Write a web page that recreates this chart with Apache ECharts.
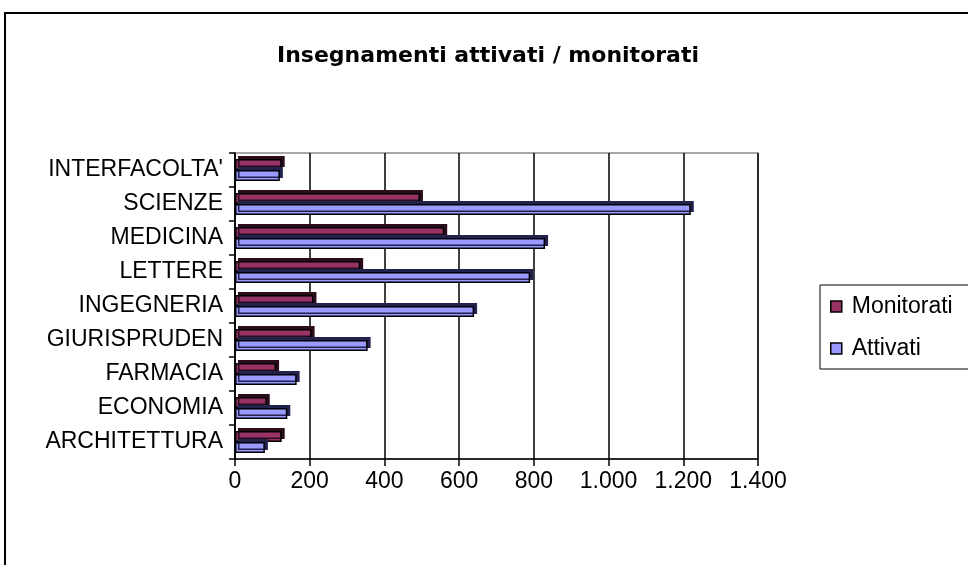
<!DOCTYPE html>
<html>
<head>
<meta charset="utf-8">
<script src="https://cdn.jsdelivr.net/npm/echarts@6/dist/echarts.min.js"></script>
<style>
  html, body { margin: 0; padding: 0; background: #fff; }
  #chart { width: 968px; height: 565px; }
</style>
</head>
<body>
<div id="chart"></div>
<script>
// dati
var categories = ['ARCHITETTURA', 'ECONOMIA', 'FARMACIA', 'GIURISPRUDEN', 'INGEGNERIA', 'LETTERE', 'MEDICINA', 'SCIENZE', "INTERFACOLTA'"];
var monitorati = [125, 85, 110, 205, 210, 335, 560, 495, 125];
var attivati = [80, 140, 165, 355, 640, 790, 830, 1220, 120];
var xTicks = [0, 200, 400, 600, 800, 1000, 1200, 1400];

var FONT = '"Liberation Sans", Arial, sans-serif';

function fmt(v) {
  return String(v).replace(/\B(?=(\d{3})+(?!\d))/g, '.');
}

var chart = echarts.init(document.getElementById('chart'));

var option = {
  animation: false,
  backgroundColor: '#fff',
  title: {
    text: 'Insegnamenti attivati / monitorati',
    left: 483,
    textAlign: 'center',
    top: 40,
    textStyle: { fontFamily: '"DejaVu Sans", sans-serif', fontSize: 22, fontWeight: 'bold', color: '#000' }
  },
  legend: {
    orient: 'vertical',
    left: 820,
    top: 285,
    padding: [10, 40, 9, 10],
    itemGap: 19,
    itemWidth: 11,
    itemHeight: 11,
    borderColor: '#000',
    borderWidth: 1,
    icon: 'rect',
    data: ['Monitorati', 'Attivati'],
    textStyle: { fontFamily: FONT, fontSize: 23, color: '#000', padding: [0, 0, 0, 5] },
    itemStyle: { borderColor: '#000', borderWidth: 1.5 }
  },
  grid: {
    left: 235,
    right: 210,
    top: 153,
    bottom: 106,
    show: true,
    borderColor: '#8c8c8c',
    borderWidth: 1.5
  },
  xAxis: {
    type: 'value',
    min: xTicks[0],
    max: xTicks[xTicks.length - 1],
    interval: 200,
    axisLine: { show: true, lineStyle: { color: '#000', width: 1.5 } },
    axisTick: { show: true, length: 7, lineStyle: { color: '#000', width: 1.5 } },
    splitLine: { show: true, lineStyle: { color: '#000', width: 1.5 } },
    axisLabel: {
      margin: 11,
      fontFamily: FONT,
      fontSize: 23,
      color: '#000',
      formatter: fmt
    }
  },
  yAxis: {
    type: 'category',
    data: categories,
    axisLine: { show: true, lineStyle: { color: '#000', width: 1.5 } },
    axisTick: { show: true, length: 6, lineStyle: { color: '#000', width: 1.5 } },
    axisLabel: { margin: 12, padding: [7, 0, 0, 0], fontFamily: FONT, fontSize: 23, color: '#000' }
  },
  series: [
    {
      name: 'Monitorati',
      type: 'bar',
      data: monitorati,
      barWidth: 11,
      barGap: '0%',
      itemStyle: {
        color: '#993366',
        borderColor: '#000',
        borderWidth: 1.5,
        shadowColor: '#2a0c1c',
        shadowOffsetX: 3,
        shadowOffsetY: -3,
        shadowBlur: 0
      }
    },
    {
      name: 'Attivati',
      type: 'bar',
      data: attivati,
      barWidth: 11,
      itemStyle: {
        color: '#9999ff',
        borderColor: '#000',
        borderWidth: 1.5,
        shadowColor: '#22224e',
        shadowOffsetX: 3,
        shadowOffsetY: -3,
        shadowBlur: 0
      }
    }
  ],
  graphic: [
    {
      type: 'rect',
      silent: true,
      shape: { x: 5, y: 13, width: 1100, height: 700 },
      style: { fill: null, stroke: '#000', lineWidth: 2 }
    }
  ]
};

chart.setOption(option);
</script>
</body>
</html>
